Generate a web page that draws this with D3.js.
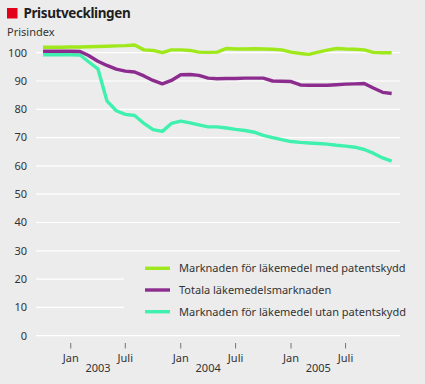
<!DOCTYPE html>
<html>
<head>
<meta charset="utf-8">
<script src="https://cdn.jsdelivr.net/npm/d3@7"></script>
<style>
  body { margin: 0; background: #ececec; }
  svg { display: block; font-family: "Noto Sans", sans-serif; }
</style>
</head>
<body>
<svg id="chart"></svg>
<script>
// months Oct 2002 .. Dec 2005
var firstMonth = new Date(2002, 9, 1)
var lastMonth = new Date(2005, 11, 1)

var seriesNames = [
  "Marknaden för läkemedel med patentskydd",
  "Totala läkemedelsmarknaden",
  "Marknaden för läkemedel utan patentskydd"
]
var seriesColors = ["#9ee81c", "#8c2c8e", "#3ff0ae"]

var medPatent = [101.9, 101.9, 101.9, 102, 102, 102.1, 102.2, 102.3, 102.4, 102.5,
  102.7, 101, 100.8, 100, 101, 101, 100.8, 100.2, 100.1, 100.2,
  101.5, 101.3, 101.3, 101.4, 101.3, 101.2, 101, 100.2, 99.7, 99.4,
  100.2, 100.9, 101.5, 101.3, 101.2, 101, 100.1, 100, 100]
var totala = [100.5, 100.5, 100.5, 100.5, 100.4, 99, 97, 95.5, 94.2, 93.5,
  93.2, 91.8, 90.2, 89, 90.2, 92.2, 92.3, 92, 91, 90.8,
  90.9, 90.9, 91, 91, 91, 90, 89.9, 89.8, 88.6, 88.5,
  88.5, 88.5, 88.7, 88.9, 89, 89.1, 87.5, 86, 85.6]
var utanPatent = [99.3, 99.3, 99.3, 99.3, 99.2, 96.8, 94.3, 83, 79.5, 78.2,
  77.8, 75, 72.8, 72.2, 75, 75.8, 75.2, 74.5, 73.8, 73.8,
  73.4, 72.9, 72.5, 71.9, 70.8, 70, 69.3, 68.6, 68.3, 68.1,
  67.9, 67.7, 67.3, 67, 66.6, 65.8, 64.5, 62.8, 61.7]

var yTicks = [0, 10, 20, 30, 40, 50, 60, 70, 80, 90, 100]
var monthTicks = [
  {date: new Date(2003, 0, 1), label: "Jan"},
  {date: new Date(2003, 6, 1), label: "Juli"},
  {date: new Date(2004, 0, 1), label: "Jan"},
  {date: new Date(2004, 6, 1), label: "Juli"},
  {date: new Date(2005, 0, 1), label: "Jan"},
  {date: new Date(2005, 6, 1), label: "Juli"}
]
var years = [2003, 2004, 2005]

var dimensions = { width: 425, height: 384 }

var svg = d3.select("#chart")
  .attr("width", dimensions.width)
  .attr("height", dimensions.height)

svg.append("rect")
  .attr("width", dimensions.width)
  .attr("height", dimensions.height)
  .attr("fill", "#ececec")

var months = d3.timeMonth.range(firstMonth, d3.timeMonth.offset(lastMonth, 1))
var allSeries = [utanPatent, totala, medPatent].map(function(vals, i) {
  return { idx: 2 - i, values: vals.map(function(v, j) { return {date: months[j], value: v} }) }
})

var x = d3.scaleTime()
  .domain([new Date(2002, 8, 1), new Date(2006, 0, 1)])
  .range([34, 401])

var y = d3.scaleLinear()
  .domain([0, 100])
  .range([335.7, 52.7])

// title
svg.append("rect")
  .attr("x", 7).attr("y", 8)
  .attr("width", 10.5).attr("height", 10.5)
  .attr("fill", "#e3001b")
svg.append("text")
  .attr("x", 23.5).attr("y", 18)
  .attr("font-size", 13.5)
  .attr("font-weight", "bold")
  .attr("letter-spacing", -0.4)
  .attr("fill", "#1e1e1e")
  .text("Prisutvecklingen")
svg.append("text")
  .attr("x", 7).attr("y", 36)
  .attr("font-size", 11)
  .attr("fill", "#333")
  .text("Prisindex")

// gridlines
svg.append("g")
  .selectAll("line")
  .data(yTicks)
  .join("line")
  .attr("x1", 36).attr("x2", 400)
  .attr("y1", d => y(d)).attr("y2", d => y(d))
  .attr("stroke", "#ffffff")
  .attr("stroke-width", 1.2)

svg.append("g")
  .selectAll("text")
  .data(yTicks)
  .join("text")
  .attr("x", 27)
  .attr("y", d => y(d))
  .attr("dy", "0.35em")
  .attr("text-anchor", "end")
  .attr("font-size", 11)
  .attr("fill", "#333")
  .text(d => d)

// x axis ticks
var xg = svg.append("g")
xg.selectAll("line")
  .data(monthTicks)
  .join("line")
  .attr("x1", d => x(d.date)).attr("x2", d => x(d.date))
  .attr("y1", 343).attr("y2", 348.5)
  .attr("stroke", "#555")
  .attr("stroke-width", 0.8)
xg.selectAll("text.month")
  .data(monthTicks)
  .join("text")
  .attr("class", "month")
  .attr("x", d => x(d.date))
  .attr("y", 362)
  .attr("text-anchor", "middle")
  .attr("font-size", 11)
  .attr("fill", "#333")
  .text(d => d.label)
xg.selectAll("text.year")
  .data(years)
  .join("text")
  .attr("class", "year")
  .attr("x", d => (x(new Date(d, 0, 1)) + x(new Date(d, 6, 1))) / 2)
  .attr("y", 372)
  .attr("text-anchor", "middle")
  .attr("font-size", 11)
  .attr("fill", "#333")
  .text(d => d)

// lines
var line = d3.line()
  .x(d => x(d.date))
  .y(d => y(d.value))

svg.append("g")
  .selectAll("path")
  .data(allSeries)
  .join("path")
  .attr("d", d => line(d.values))
  .attr("fill", "none")
  .attr("stroke", d => seriesColors[d.idx])
  .attr("stroke-width", 3.4)
  .attr("stroke-linejoin", "round")

// legend, covers the gridlines behind it
var legend = svg.append("g")
legend.append("rect")
  .attr("x", 124).attr("y", 256)
  .attr("width", 277).attr("height", 68)
  .attr("fill", "#ececec")
legend.selectAll("line")
  .data(seriesNames)
  .join("line")
  .attr("x1", 145).attr("x2", 170)
  .attr("y1", (d, i) => 268.3 + i * 21.7)
  .attr("y2", (d, i) => 268.3 + i * 21.7)
  .attr("stroke", (d, i) => seriesColors[i])
  .attr("stroke-width", 3.4)
legend.selectAll("text")
  .data(seriesNames)
  .join("text")
  .attr("x", 179)
  .attr("y", (d, i) => 268.3 + i * 21.7)
  .attr("dy", "0.35em")
  .attr("font-size", 11)
  .attr("fill", "#333")
  .text(d => d)
</script>
</body>
</html>
